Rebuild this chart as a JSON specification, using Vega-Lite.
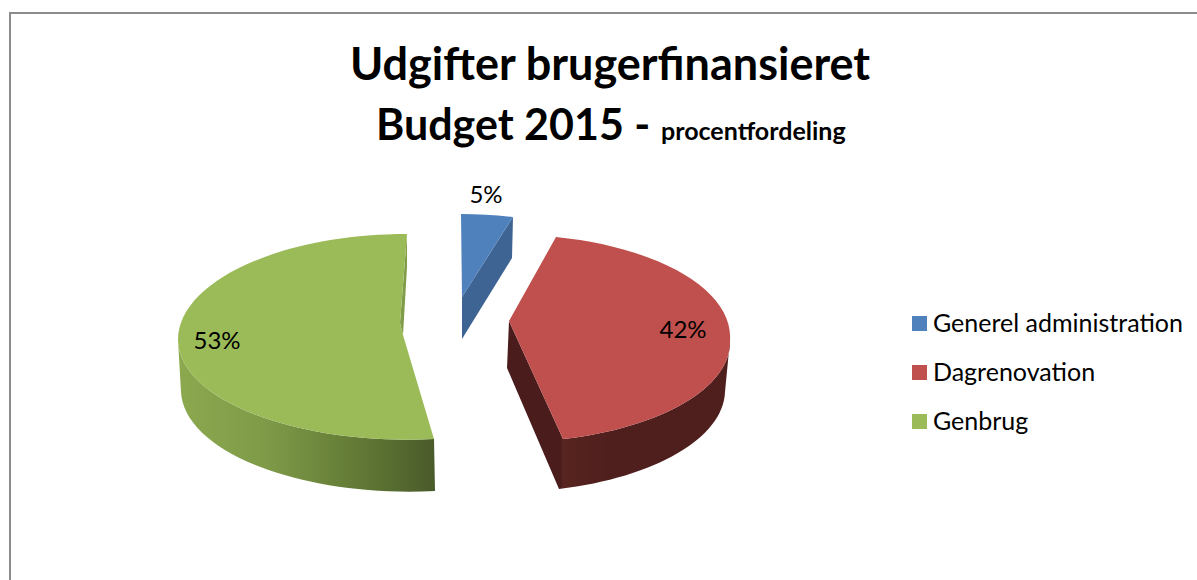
{
  "$schema": "https://vega.github.io/schema/vega-lite/v6.json",
  "autosize": {"type": "none"},
  "width": 1200,
  "height": 620,
  "padding": {"left": 10, "top": 13, "right": 0, "bottom": 0},
  "background": "white",
  "view": {"stroke": "#8c8c8c", "strokeWidth": 2, "fill": "white"},
  "title": {"text": "Udgifter brugerfinansieret", "font": "Lato", "fontSize": 45, "fontWeight": "bold", "color": "black", "anchor": "middle", "frame": "group", "baseline": "alphabetic", "offset": -112},
  "data": {"values": [
    {"category": "Generel administration", "value": 0.05},
    {"category": "Dagrenovation", "value": 0.42},
    {"category": "Genbrug", "value": 0.53}
  ]},
  "layer": [
    {"transform": [{"filter": "datum.category === 'Genbrug'"}],
     "mark": {"type": "point", "filled": true, "opacity": 1, "size": 4,
       "shape": "M-432,17 L-429,69 A 228 102 0 0 0 -175,168 L-176,116 A 229 100 0 0 1 -432,17 Z",
       "fill": {"gradient": "linear", "x1": 0, "y1": 0, "x2": 1, "y2": 0, "stops": [
         {"offset": 0, "color": "#8ca94f"}, {"offset": 0.35, "color": "#7e9a48"}, {"offset": 0.6, "color": "#6a833a"}, {"offset": 0.85, "color": "#566b30"}, {"offset": 1, "color": "#4a5a2a"}]}},
     "encoding": {}},
    {"transform": [{"filter": "datum.category === 'Genbrug'"}],
     "mark": {"type": "point", "filled": true, "opacity": 1, "size": 4, "fill": "#7f9c49",
       "shape": "M-203,-89 L-203,-56 L-207,12 L-210,0 Z"},
     "encoding": {}},
    {"transform": [{"filter": "datum.category === 'Dagrenovation'"}],
     "mark": {"type": "point", "filled": true, "opacity": 1, "size": 4,
       "shape": "M-101,-2 L-103,45 L-51,166 A 222 102 0 0 0 115,69 L120,17 A 222 100 0 0 1 -47,116 Z",
       "fill": {"gradient": "linear", "x1": 0, "y1": 0, "x2": 1, "y2": 0, "stops": [
         {"offset": 0, "color": "#4a1d1c"}, {"offset": 0.24, "color": "#4a1d1c"}, {"offset": 0.25, "color": "#58241f"}, {"offset": 0.45, "color": "#4f1f1e"}, {"offset": 1, "color": "#4f1f1e"}]}},
     "encoding": {}},
    {"transform": [{"filter": "datum.category === 'Generel administration'"}],
     "mark": {"type": "point", "filled": true, "opacity": 1, "size": 4, "fill": "#3d6492",
       "shape": "M-97,-106 L-98,-65 L-148,16 L-148,-26 Z"},
     "encoding": {}},
    {"transform": [{"filter": "datum.category === 'Generel administration'"}],
     "mark": {"type": "point", "filled": true, "opacity": 1, "size": 4, "shape": "M-149,-109 A 229 105 0 0 1 -97,-106 L-148,-26 Z"},
     "encoding": {
       "color": {"field": "category", "type": "nominal", "title": null,
         "scale": {"domain": ["Generel administration", "Dagrenovation", "Genbrug"], "range": ["#4f81bd", "#c0504d", "#9bbb59"]},
         "legend": {"orient": "none", "legendX": 897, "legendY": 298, "padding": 0, "symbolType": "square", "symbolSize": 225, "symbolStrokeWidth": 0, "labelFont": "Lato", "labelFontSize": 25, "labelColor": "black", "labelLimit": 400, "labelOffset": 1, "rowPadding": 23,
           "encode": {"symbols": {"update": {"shape": {"value": "square"}, "size": {"value": 225}}}}}}
     }},
    {"transform": [{"filter": "datum.category === 'Dagrenovation'"}],
     "mark": {"type": "point", "filled": true, "opacity": 1, "size": 4, "shape": "M-54,-86 A 222 102 0 0 1 120,17 A 222 100 0 0 1 -47,116 L-101,-2 Z"},
     "encoding": {"color": {"field": "category", "type": "nominal", "legend": null}}},
    {"transform": [{"filter": "datum.category === 'Genbrug'"}],
     "mark": {"type": "point", "filled": true, "opacity": 1, "size": 4, "shape": "M-203,-89 A 229 106 0 0 0 -432,17 A 229 100 0 0 0 -176,116 L-207,12 L-210,0 Z"},
     "encoding": {"color": {"field": "category", "type": "nominal", "legend": null}}},
    {"transform": [{"filter": "datum.category === 'Generel administration'"}],
     "mark": {"type": "text", "font": "Lato", "fontSize": 24, "color": "black", "xOffset": -124, "yOffset": -127},
     "encoding": {"text": {"field": "value", "type": "quantitative", "format": ".0%"}}},
    {"transform": [{"filter": "datum.category === 'Dagrenovation'"}],
     "mark": {"type": "text", "font": "Lato", "fontSize": 24, "color": "black", "xOffset": 73, "yOffset": 8},
     "encoding": {"text": {"field": "value", "type": "quantitative", "format": ".0%"}}},
    {"transform": [{"filter": "datum.category === 'Genbrug'"}],
     "mark": {"type": "text", "font": "Lato", "fontSize": 24, "color": "black", "xOffset": -393, "yOffset": 19},
     "encoding": {"text": {"field": "value", "type": "quantitative", "format": ".0%"}}},
    {"data": {"values": [{"label": "Budget 2015 -"}]},
     "mark": {"type": "text", "font": "Lato", "fontSize": 43, "fontWeight": "bold", "color": "black", "align": "left", "baseline": "alphabetic", "xOffset": -234, "yOffset": -183},
     "encoding": {"text": {"field": "label", "type": "nominal"}}},
    {"data": {"values": [{"label": "procentfordeling"}]},
     "mark": {"type": "text", "font": "Lato", "fontSize": 25, "fontWeight": "bold", "color": "black", "align": "left", "baseline": "alphabetic", "xOffset": 51, "yOffset": -183},
     "encoding": {"text": {"field": "label", "type": "nominal"}}}
  ]
}
